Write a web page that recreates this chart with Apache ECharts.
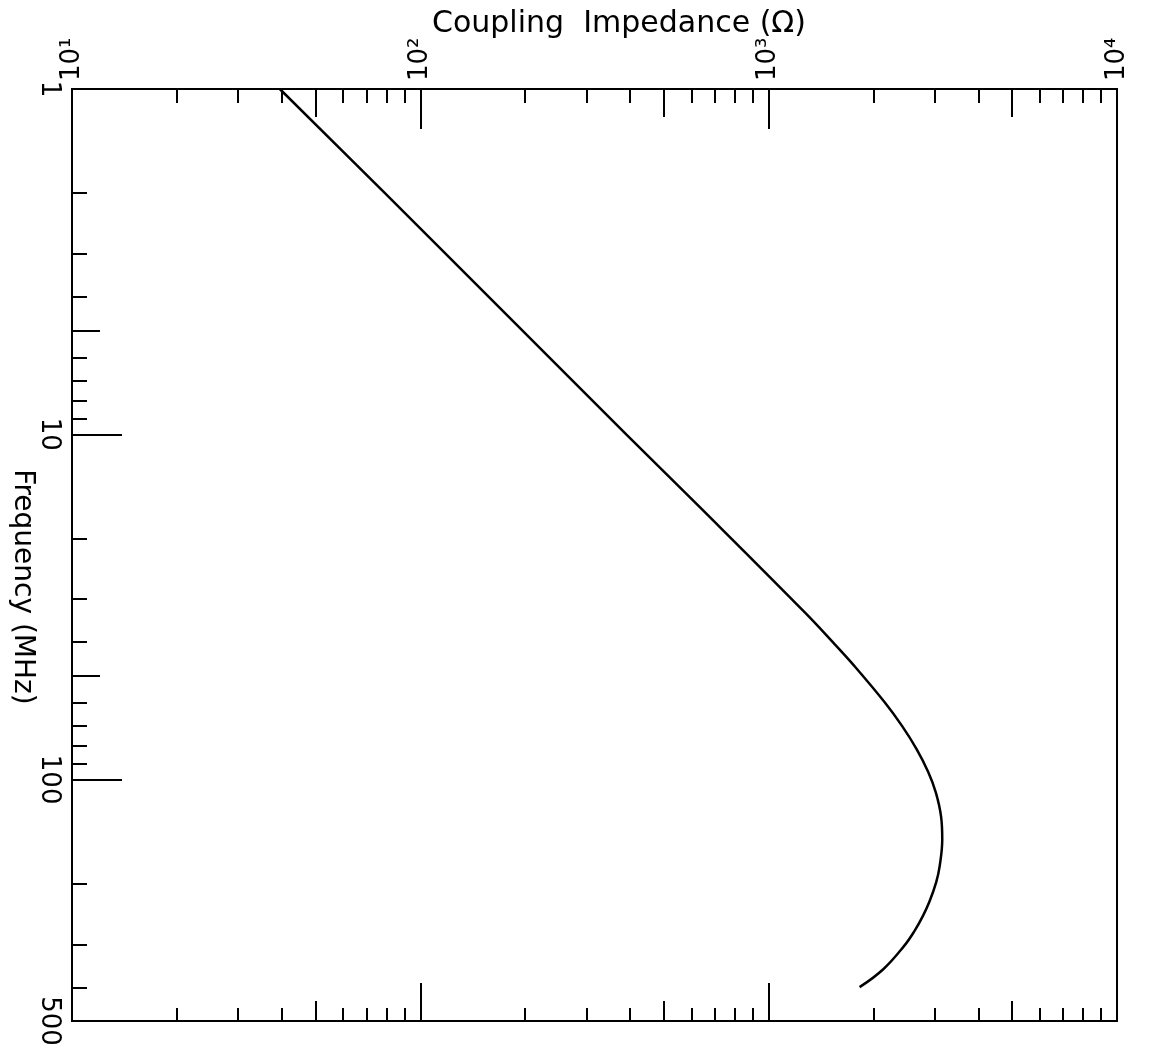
<!DOCTYPE html>
<html>
<head>
<meta charset="utf-8">
<script src="https://cdn.jsdelivr.net/npm/echarts@6/dist/echarts.min.js"></script>
<style>
html,body{margin:0;padding:0;background:#fff;}
#chart{width:1152px;height:1055px;}
</style>
</head>
<body>
<div id="chart"></div>
<script>
// Data (frequency in MHz, coupling impedance in ohms)
const freqMHz      = [1,    2,  4.66, 10,  16.5, 32.8, 40,   47,   59.7, 70,   81.7, 95,   109,  128,  149,  178,  198,  225,  248,  275,  303,  354,  399];
const impedanceOhm = [39.5, 79, 183,  390, 644,  1270, 1528, 1766, 2153, 2417, 2661, 2871, 3020, 3126, 3150, 3097, 3027, 2897, 2773, 2618, 2449, 2133, 1824];

// Axis ticks / labels
const zMajor = [10, 100, 1000, 10000];
const zFive = [50, 500, 5000];
const zMinor = [20,30,40,60,70,80,90, 200,300,400,600,700,800,900, 2000,3000,4000,6000,7000,8000,9000];
const fLabels = [1, 10, 100, 500];
const fMajor = [10, 100];
const fFive = [5, 50];
const fMinor = [2,3,4,6,7,8,9, 20,30,40,60,70,80,90, 200,300,400];

const supMap = {'1':'\u00B9','2':'\u00B2','3':'\u00B3','4':'\u2074'};
const FONT = 'DejaVu Sans';

function zAxis(pos, vals, len, withLabels, withLine) {
  return {
    type: 'log', logBase: 10, min: 10, max: 10000, position: pos,
    axisLine: {show: withLine, onZero: false, lineStyle: {color: '#000', width: 2}},
    axisTick: {show: true, inside: true, length: len, customValues: vals,
               lineStyle: {color: '#000', width: 2}},
    axisLabel: withLabels ? {
      show: true, customValues: zMajor, rotate: -90, margin: 8,
      color: '#000', fontFamily: FONT, fontSize: 26,
      formatter: v => '10' + supMap[String(Math.round(Math.log10(v)))]
    } : {show: false},
    splitLine: {show: false}, minorTick: {show: false}
  };
}
function fAxis(vals, len, withLabels, withLine) {
  return {
    type: 'log', logBase: 10, min: 1, max: 500, inverse: true, position: 'left',
    axisLine: {show: withLine, onZero: false, lineStyle: {color: '#000', width: 2}},
    axisTick: {show: true, inside: true, length: len, customValues: vals,
               lineStyle: {color: '#000', width: 2}},
    axisLabel: withLabels ? {
      show: true, customValues: fLabels, rotate: -90, margin: 10,
      color: '#000', fontFamily: FONT, fontSize: 26,
      formatter: v => String(Math.round(v))
    } : {show: false},
    splitLine: {show: false}, minorTick: {show: false}
  };
}

const chart = echarts.init(document.getElementById('chart'), null, {renderer: 'canvas'});
chart.setOption({
  animation: false,
  backgroundColor: '#fff',
  grid: {left: 72, right: 35, top: 89, bottom: 34, show: true, borderColor: '#000', borderWidth: 2,
         backgroundColor: 'transparent', containLabel: false, outerBoundsMode: 'none'},
  xAxis: [
    zAxis('top', zMajor, 40, true, true),
    zAxis('top', zFive, 28, false, false),
    zAxis('top', zMinor, 14, false, false),
    zAxis('bottom', zMajor, 38, false, true),
    zAxis('bottom', zFive, 20, false, false),
    zAxis('bottom', zMinor, 13, false, false)
  ],
  yAxis: [
    fAxis(fMajor, 50, true, true),
    fAxis(fFive, 28, false, false),
    fAxis(fMinor, 15, false, false)
  ],
  series: [{
    type: 'line', xAxisIndex: 0, yAxisIndex: 0,
    data: freqMHz.map((f, i) => [impedanceOhm[i], f]),
    showSymbol: false, smooth: 0.4,
    lineStyle: {color: '#000', width: 2.5}
  }],
  graphic: [
    {type: 'text', x: 619, y: 24,
     style: {text: 'Coupling  Impedance (\u03A9)', fontFamily: FONT, fontSize: 30, fill: '#000',
             align: 'center', verticalAlign: 'middle'}},
    {type: 'text', x: 22, y: 587, rotation: -Math.PI / 2,
     style: {text: 'Frequency (MHz)', fontFamily: FONT, fontSize: 28, fill: '#000',
             align: 'center', verticalAlign: 'middle'}}
  ]
});
</script>
</body>
</html>
